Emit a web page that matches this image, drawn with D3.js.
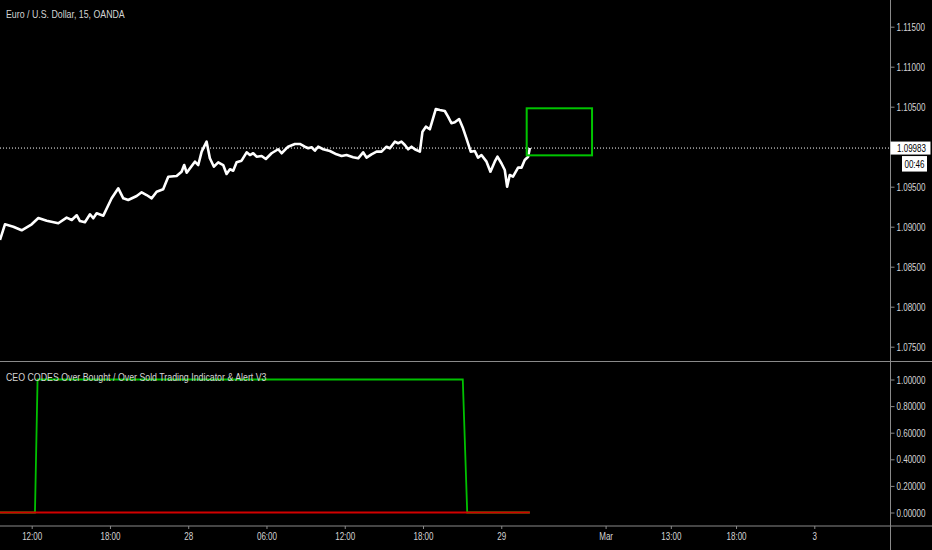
<!DOCTYPE html>
<html>
<head>
<meta charset="utf-8">
<script src="https://cdn.jsdelivr.net/npm/d3@7"></script>
<style>
  html, body { margin: 0; padding: 0; background: #000; }
  svg { display: block; }
  text { font-family: "Liberation Sans", Arial, sans-serif; }
  .axis-label { fill: #d4d4d4; font-size: 11px; }
</style>
</head>
<body>
<svg id="chart"></svg>
<script>
// hours counted from 27 Feb 00:00, prices
const priceHours = [
  9.57, 9.95, 10.59, 11.23, 12.00, 12.51, 13.15, 14.04, 14.68, 15.07,
  15.45, 15.70, 16.08, 16.47, 16.72, 16.98, 17.49, 18.13, 18.64, 19.02,
  19.40, 20.05, 20.43, 20.81, 21.20, 21.58, 22.08, 22.47, 23.11, 23.49,
  23.69, 23.88, 24.51, 24.77, 25.03, 25.41, 25.66, 25.97, 26.30, 26.68,
  26.94, 27.20, 27.45, 27.71, 28.09, 28.48, 28.73, 28.98, 29.24, 29.63,
  29.95, 30.39, 30.90, 31.16, 31.66, 32.18, 32.56, 32.94, 33.20, 33.46,
  33.71, 33.96, 34.35, 34.86, 35.37, 35.76, 36.14, 36.64, 37.03, 37.41,
  37.67, 38.05, 38.44, 38.82, 39.20, 39.46, 39.84, 40.09, 40.35, 40.61,
  40.86, 41.12, 41.37, 41.76, 41.96, 42.22, 42.52, 42.98, 43.29, 43.67,
  43.92, 44.18, 44.44, 44.77, 45.07, 45.33, 45.66, 45.97, 46.22, 46.48,
  46.87, 47.17, 47.50, 47.71, 48.01, 48.27, 48.45, 48.65, 48.90, 49.29,
  49.55, 49.80, 50.06, 50.19
];
const priceValues = [
  1.08834, 1.09030, 1.09000, 1.08955, 1.09030, 1.09109, 1.09075, 1.09043, 1.09113, 1.09084,
  1.09143, 1.09071, 1.09055, 1.09155, 1.09105, 1.09168, 1.09138, 1.09355, 1.09480, 1.09355,
  1.09334, 1.09384, 1.09430, 1.09396, 1.09355, 1.09438, 1.09468, 1.09625, 1.09634, 1.09688,
  1.09771, 1.09675, 1.09813, 1.09771, 1.09938, 1.10063, 1.09855, 1.09750, 1.09805, 1.09771,
  1.09659, 1.09718, 1.09700, 1.09805, 1.09825, 1.09930, 1.09896, 1.09918, 1.09875, 1.09884,
  1.09846, 1.09918, 1.09968, 1.09918, 1.10000, 1.10034, 1.10034, 1.10000, 1.09980, 1.09993,
  1.09950, 1.10000, 1.09968, 1.09946, 1.09905, 1.09884, 1.09896, 1.09868, 1.09855, 1.09930,
  1.09863, 1.09905, 1.09938, 1.09938, 1.10000, 1.09980, 1.10063, 1.10043, 1.10063, 1.10021,
  1.09968, 1.10000, 1.09968, 1.09938, 1.10188, 1.10250, 1.10218, 1.10471, 1.10459, 1.10446,
  1.10375, 1.10293, 1.10305, 1.10346, 1.10230, 1.10105, 1.09938, 1.09946, 1.09863, 1.09896,
  1.09813, 1.09688, 1.09813, 1.09875, 1.09793, 1.09709, 1.09500, 1.09646, 1.09625, 1.09738,
  1.09738, 1.09834, 1.09875, 1.09983
];

// indicator (over bought = green, over sold = red)
const signalHours = [9.57, 12.25, 12.45, 45.05, 45.39, 50.19];
const overBought = [0, 0, 1, 1, 0, 0];
const overSold = [0, 0, 0, 0, 0, 0];

// target box
const boxHours = [49.95, 54.96];
const boxPrices = [1.09892, 1.10480];

const lastPrice = 1.09983;
const countdown = '00:46';

const priceTicks = [1.075, 1.080, 1.085, 1.090, 1.095, 1.100, 1.105, 1.110, 1.115];
const signalTicks = [0, 0.2, 0.4, 0.6, 0.8, 1.0];
const timeTicks = [12, 18, 24, 30, 36, 42, 48, 56, 61, 66, 72];
const timeLabels = ['12:00', '18:00', '28', '06:00', '12:00', '18:00', '29', 'Mar', '13:00', '18:00', '3'];

const mainTitle = 'Euro / U.S. Dollar, 15, OANDA';
const signalTitle = 'CEO CODES Over Bought / Over Sold Trading Indicator & Alert V3';

const width = 932, height = 550;
const plotRight = 890;
const paneSplit = 361.5;
const timeAxisTop = 526;
const gridColor = '#8a8a8a';

const svg = d3.select('#chart')
  .attr('width', width)
  .attr('height', height)
  .style('background', '#000');

// Scales
const x = d3.scaleLinear().domain([12, 72]).range([31.7, 814.3]);
const yPrice = d3.scaleLinear().domain([1.075, 1.115]).range([346.7, 26.7]);
const ySignal = d3.scaleLinear().domain([0, 1]).range([512.5, 379.5]);

const price = priceHours.map((h, i) => ({ h, v: priceValues[i] }));
const signal = signalHours.map((h, i) => ({ h, ob: overBought[i], os: overSold[i] }));

svg.append('clipPath').attr('id', 'main-clip')
  .append('rect').attr('x', 0).attr('y', 0).attr('width', plotRight).attr('height', paneSplit);

// Last price dotted line
svg.append('line')
  .attr('x1', 0).attr('x2', plotRight)
  .attr('y1', yPrice(lastPrice)).attr('y2', yPrice(lastPrice))
  .attr('stroke', '#fff')
  .attr('stroke-width', 1)
  .attr('stroke-dasharray', '1,2');

// Price line
const priceLine = d3.line()
  .x(d => x(d.h))
  .y(d => yPrice(d.v));

svg.append('path')
  .datum(price)
  .attr('clip-path', 'url(#main-clip)')
  .attr('fill', 'none')
  .attr('stroke', '#fff')
  .attr('stroke-width', 2.6)
  .attr('stroke-linejoin', 'round')
  .attr('d', priceLine);

// Target box
svg.append('rect')
  .attr('x', x(boxHours[0]))
  .attr('y', yPrice(boxPrices[1]))
  .attr('width', x(boxHours[1]) - x(boxHours[0]))
  .attr('height', yPrice(boxPrices[0]) - yPrice(boxPrices[1]))
  .attr('fill', 'none')
  .attr('stroke', '#00c400')
  .attr('stroke-width', 2);

// Indicator lines
svg.append('path')
  .datum(signal)
  .attr('fill', 'none')
  .attr('stroke', '#00c000')
  .attr('stroke-width', 1.8)
  .attr('d', d3.line().x(d => x(d.h)).y(d => ySignal(d.ob)));

svg.append('path')
  .datum(signal)
  .attr('fill', 'none')
  .attr('stroke', '#d10000')
  .attr('stroke-width', 2)
  .attr('d', d3.line().x(d => x(d.h)).y(d => ySignal(d.os)));

// Frame lines
svg.append('line')
  .attr('x1', plotRight + 0.5).attr('x2', plotRight + 0.5)
  .attr('y1', 0).attr('y2', height)
  .attr('stroke', gridColor);
[paneSplit, timeAxisTop].forEach(yy => {
  svg.append('line')
    .attr('x1', 0).attr('x2', width)
    .attr('y1', yy).attr('y2', yy)
    .attr('stroke', gridColor);
});

// Price axis
const priceAxis = d3.axisRight(yPrice)
  .tickValues(priceTicks)
  .tickFormat(d3.format('.5f'))
  .tickSize(4)
  .tickPadding(2);

const priceAxisG = svg.append('g')
  .attr('transform', `translate(${plotRight + 0.5},0)`)
  .call(priceAxis);

// Indicator axis
const signalAxis = d3.axisRight(ySignal)
  .tickValues(signalTicks)
  .tickFormat(d3.format('.5f'))
  .tickSize(4)
  .tickPadding(2);

const signalAxisG = svg.append('g')
  .attr('transform', `translate(${plotRight + 0.5},0)`)
  .call(signalAxis);

// Time axis
const timeAxis = d3.axisBottom(x)
  .tickValues(timeTicks)
  .tickFormat((d, i) => timeLabels[i])
  .tickSize(3)
  .tickPadding(3);

const timeAxisG = svg.append('g')
  .attr('transform', `translate(0,${timeAxisTop})`)
  .call(timeAxis);

[priceAxisG, signalAxisG, timeAxisG].forEach(g => {
  g.select('.domain').remove();
  g.selectAll('.tick line').attr('stroke', gridColor);
  g.selectAll('.tick text')
    .attr('class', 'axis-label narrow')
    .attr('font-family', null)
    .attr('font-size', null);
});

// Last price label
const lastY = yPrice(lastPrice);
svg.append('rect')
  .attr('x', plotRight + 0.5).attr('y', lastY - 6.5)
  .attr('width', 40).attr('height', 13)
  .attr('fill', '#fff');
svg.append('text')
  .attr('class', 'narrow')
  .attr('x', plotRight + 7).attr('y', lastY + 4)
  .attr('fill', '#000')
  .attr('font-size', 11)
  .text(d3.format('.5f')(lastPrice));

svg.append('rect')
  .attr('x', 902).attr('y', lastY + 8)
  .attr('width', 25).attr('height', 15.5)
  .attr('fill', '#fff');
svg.append('text')
  .attr('class', 'narrow')
  .attr('x', 914.5).attr('y', lastY + 19.5)
  .attr('text-anchor', 'middle')
  .attr('fill', '#000')
  .attr('font-size', 11)
  .text(countdown);

// Titles
svg.append('text')
  .attr('class', 'title')
  .attr('x', 6).attr('y', 18)
  .attr('fill', '#d4d4d4')
  .attr('font-size', 11)
  .text(mainTitle);

svg.append('text')
  .attr('class', 'title')
  .attr('x', 6).attr('y', 381)
  .attr('fill', '#d4d4d4')
  .attr('font-size', 11)
  .text(signalTitle);

// the chart font is a narrow one: squeeze glyphs horizontally around each text's x
function squeeze(sel, k) {
  sel.each(function () {
    const x0 = +(this.getAttribute('x') || 0);
    d3.select(this).attr('transform', `translate(${x0 * (1 - k)},0) scale(${k},1)`);
  });
}
squeeze(svg.selectAll('text.narrow'), 0.73);
squeeze(svg.selectAll('text.title'), 0.8);
</script>
</body>
</html>
